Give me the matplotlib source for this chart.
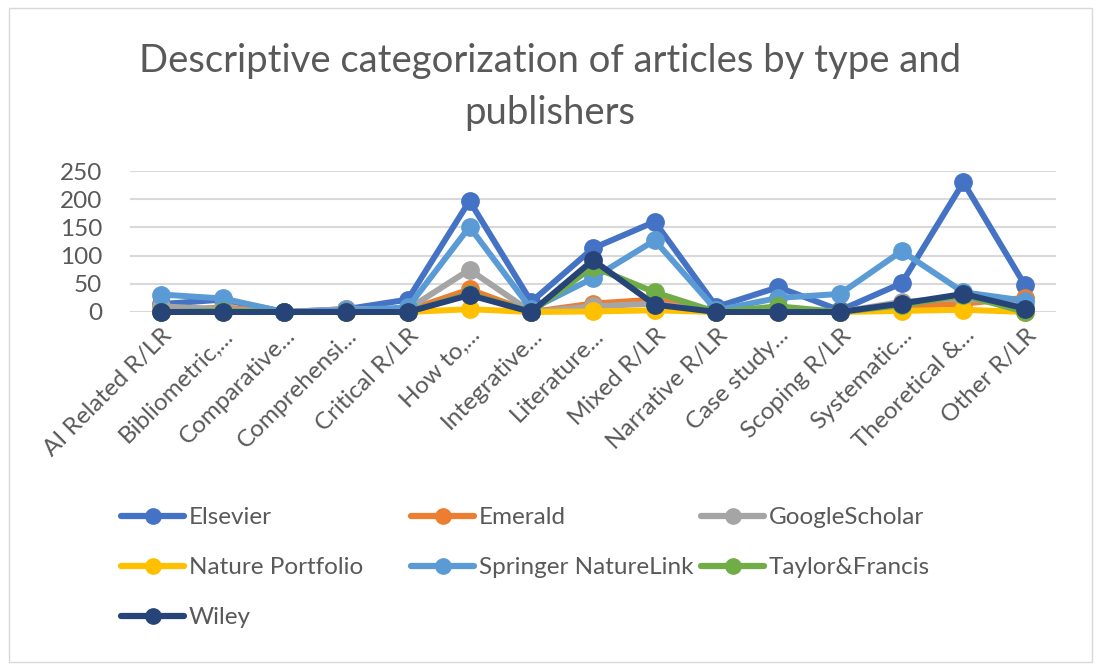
import matplotlib
matplotlib.use("Agg")
import matplotlib.pyplot as plt
from matplotlib.patches import Rectangle
from matplotlib.lines import Line2D

plt.rcParams['font.family'] = ['Lato', 'DejaVu Sans']

categories = ["AI Related R/LR", "Bibliometric,...", "Comparative...", "Comprehensi...",
              "Critical R/LR", "How to,...", "Integrative...", "Literature...",
              "Mixed R/LR", "Narrative R/LR", "Case study...", "Scoping R/LR",
              "Systematic...", "Theoretical &...", "Other R/LR"]

elsevier = [14, 22, 0, 5, 22, 197, 18, 113, 160, 9, 44, 3, 51, 230, 47]
emerald = [2, 8, 0, 3, 3, 40, 0, 15, 22, 0, 3, 0, 10, 15, 25]
google_scholar = [10, 5, 0, 5, 5, 75, 0, 10, 15, 0, 5, 0, 18, 25, 10]
nature_portfolio = [0, 0, 0, 0, 0, 5, 0, 1, 3, 0, 0, 0, 2, 4, 0]
springer = [31, 24, 0, 3, 8, 151, 5, 60, 127, 3, 25, 32, 108, 35, 20]
taylor_francis = [0, 2, 0, 0, 0, 32, 0, 80, 35, 0, 10, 0, 12, 30, 0]
wiley = [0, 0, 0, 0, 0, 30, 0, 92, 13, 0, 0, 0, 15, 32, 6]

series_names = ["Elsevier", "Emerald", "GoogleScholar", "Nature Portfolio",
                "Springer NatureLink", "Taylor&Francis", "Wiley"]
series_values = [elsevier, emerald, google_scholar, nature_portfolio,
                 springer, taylor_francis, wiley]
colors = ["#4472C4", "#ED7D31", "#A5A5A5", "#FFC000", "#5B9BD5", "#70AD47", "#264478"]

yticks = [0, 50, 100, 150, 200, 250]

W, H = 1100, 668
fig = plt.figure(figsize=(W / 100, H / 100), dpi=100)
fig.patches.append(Rectangle((9 / W, 6 / H), (1092 - 9) / W, (660 - 6) / H,
                             transform=fig.transFigure, fill=False,
                             edgecolor="#D9D9D9", linewidth=1.0))

ax = fig.add_axes([130 / W, 1 - 312 / H, (1056 - 130) / W, (312 - 171) / H])
x = list(range(len(categories)))
for name, vals, c in zip(series_names, series_values, colors):
    ax.plot(x, vals, color=c, linewidth=4.3, marker='o', markersize=12.5,
            markerfacecolor=c, markeredgecolor=c, clip_on=False,
            solid_joinstyle='round', solid_capstyle='round', zorder=3)

ax.set_xlim(-0.5, len(categories) - 0.5)
ax.set_ylim(0, 250)
ax.set_yticks(yticks)
ax.set_yticklabels([str(v) for v in yticks])
ax.set_xticks(x)
ax.set_xticklabels(categories, rotation=45, ha='right', rotation_mode='anchor')
ax.tick_params(axis='both', length=0, labelsize=17.5, colors="#595959")
ax.tick_params(axis='x', pad=9)
ax.tick_params(axis='y', pad=20)
ax.grid(axis='y', color="#D9D9D9", linewidth=1.5)
ax.set_axisbelow(True)
for s in ax.spines.values():
    s.set_visible(False)

fig.text(0.5, 1 - 61 / H, "Descriptive categorization of articles by type and",
         ha='center', va='center', fontsize=27.5, color="#595959")
fig.text(0.5, 1 - 113 / H, "publishers",
         ha='center', va='center', fontsize=27.5, color="#595959")

cols = [["Elsevier", "Nature Portfolio", "Wiley"],
        ["Emerald", "Springer NatureLink"],
        ["GoogleScholar", "Taylor&Francis"]]
col_x = [121, 411, 701]
for names, cx in zip(cols, col_x):
    hs = []
    for n in names:
        c = colors[series_names.index(n)]
        hs.append(Line2D([], [], color=c, linewidth=4.5, marker='o', markersize=11,
                         markerfacecolor=c, markeredgecolor=c, solid_capstyle='round'))
    fig.legend(hs, names, loc='upper left', bbox_to_anchor=(cx / W, 1 - 507 / H),
               frameon=False, fontsize=17.5, handlelength=2.6, handletextpad=0.2,
               labelspacing=1.2, borderpad=0, borderaxespad=0, labelcolor="#595959")

fig.savefig("out.png", dpi=100)
